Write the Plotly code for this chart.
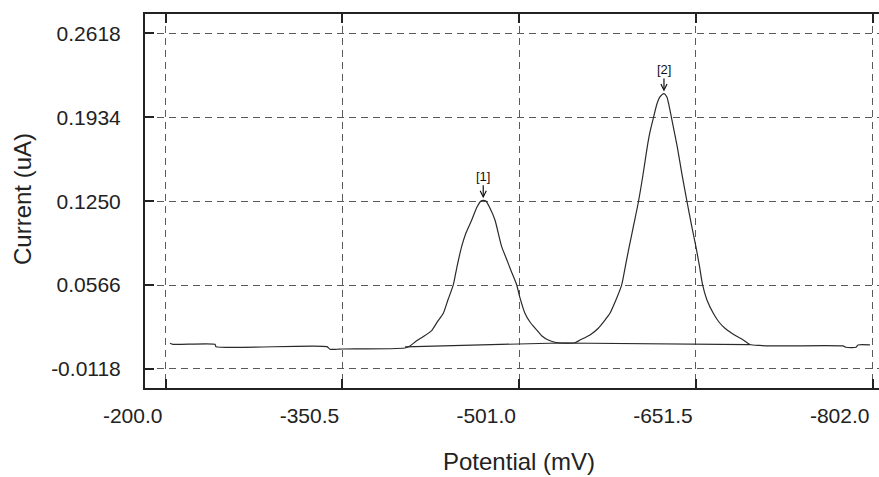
import plotly.graph_objects as go

# ---- data ----
potential_mv = [-203.7, -206.2, -242.0, -242.8, -337.3, -339.9, -345.9, -350.1, -403.8, -408.0,
                -413.7, -419.1, -426.5, -431.0, -436.4, -440.4, -444.9, -448.0, -452.0, -455.7,
                -460.6, -465.1, -468.5, -470.4, -472.7, -476.1, -480.4, -486.1, -489.8, -494.0,
                -498.9, -501.7, -505.9, -510.2, -515.9, -520.4, -525.8, -531.5, -537.4, -548.5,
                -552.8, -561.3, -568.4, -574.1, -578.3, -583.4, -588.3, -591.5, -594.7, -598.7,
                -602.4, -606.4, -610.1, -612.4, -615.2, -618.3, -620.9, -624.3, -626.8, -628.5,
                -630.8, -635.6, -639.6, -644.1, -647.7, -651.5, -654.5, -657.2, -660.9, -666.3,
                -671.1, -676.2, -683.0, -691.8, -697.5, -706.0, -714.6, -776.7, -779.3, -787.8,
                -789.5, -799.7]
current_ua = [0.0092, 0.0083, 0.0083, 0.0064, 0.0064, 0.0043, 0.0043, 0.0045, 0.0053, 0.0070,
              0.0112, 0.0145, 0.0195, 0.0262, 0.0336, 0.0446, 0.0567, 0.0713, 0.0879, 0.0990,
              0.1096, 0.1202, 0.1251, 0.1257, 0.1251, 0.1194, 0.1096, 0.0879, 0.0789, 0.0685,
              0.0567, 0.0461, 0.0336, 0.0265, 0.0200, 0.0151, 0.0118, 0.0100, 0.0094, 0.0096,
              0.0118, 0.0159, 0.0214, 0.0281, 0.0336, 0.0444, 0.0567, 0.0722, 0.0879, 0.1064,
              0.1237, 0.1463, 0.1694, 0.1814, 0.1925, 0.2042, 0.2099, 0.2127, 0.2099, 0.2034,
              0.1925, 0.1694, 0.1471, 0.1237, 0.1056, 0.0879, 0.0722, 0.0567, 0.0444, 0.0336,
              0.0265, 0.0214, 0.0167, 0.0118, 0.0082, 0.0074, 0.0070, 0.0070, 0.0059, 0.0059,
              0.0078, 0.0078]

baseline_mv = [-403.8, -535.7, -697.5]
baseline_ua = [0.0063, 0.0094, 0.0080]

peak_labels = ["[1]", "[2]"]
peak_mv = [-470.4, -624.3]
peak_ua = [0.1257, 0.2127]

x_ticks = [-200.0, -350.5, -501.0, -651.5, -802.0]
x_ticktext = ["-200.0", "-350.5", "-501.0", "-651.5", "-802.0"]
y_ticks = [-0.0118, 0.0566, 0.1250, 0.1934, 0.2618]
y_ticktext = ["-0.0118", "0.0566", "0.1250", "0.1934", "0.2618"]

x_title = "Potential (mV)"
y_title = "Current (uA)"

FONT = "Liberation Sans, Arial, sans-serif"
INK = "#222222"

fig = go.Figure()
fig.add_trace(go.Scatter(x=potential_mv, y=current_ua, mode="lines",
                         line=dict(color="#2a2a2a", width=1.2, shape="spline", smoothing=0.6),
                         showlegend=False))
fig.add_trace(go.Scatter(x=baseline_mv, y=baseline_ua, mode="lines",
                         line=dict(color="#2a2a2a", width=1.2), showlegend=False))

for lab, px, py in zip(peak_labels, peak_mv, peak_ua):
    fig.add_annotation(x=px, y=py, text=lab, showarrow=True, arrowhead=5, arrowsize=1,
                       arrowwidth=1.2, arrowcolor="#111111", ax=0, ay=-24, standoff=2,
                       font=dict(family=FONT, size=13, color="#111111"))

fig.add_annotation(xref="paper", yref="paper", x=(519 - 145) / 734, y=(388 - 462) / 374,
                   text=x_title, showarrow=False, xanchor="center", yanchor="middle",
                   font=dict(family=FONT, size=24, color=INK))
fig.add_annotation(xref="paper", yref="paper", x=(22 - 145) / 734, y=(388 - 199) / 374,
                   text=y_title, showarrow=False, textangle=-90, xanchor="center",
                   yanchor="middle", font=dict(family=FONT, size=24, color=INK))

grid = dict(showgrid=True, gridcolor="#5a5a5a", gridwidth=1, griddash="7px,5px",
            zeroline=False, showline=True, linecolor=INK, linewidth=2,
            ticks="inside", ticklen=9, tickwidth=1.5, tickcolor=INK,
            tickfont=dict(family=FONT, size=21, color=INK))

fig.update_xaxes(range=[-182.4, -807.4], tickmode="array", tickvals=x_ticks,
                 ticktext=x_ticktext, mirror="ticks", ticklabelshift=33,
                 ticklabelstandoff=8, **grid)
fig.update_yaxes(range=[-0.02729, 0.27753], tickmode="array", tickvals=y_ticks,
                 ticktext=y_ticktext, mirror=False, ticklabelstandoff=18, **grid)

fig.update_layout(width=879, height=477, margin=dict(l=145, r=0, t=14, b=89),
                  plot_bgcolor="white", paper_bgcolor="white",
                  font=dict(family=FONT, color=INK))

fig.write_html("out.html")
